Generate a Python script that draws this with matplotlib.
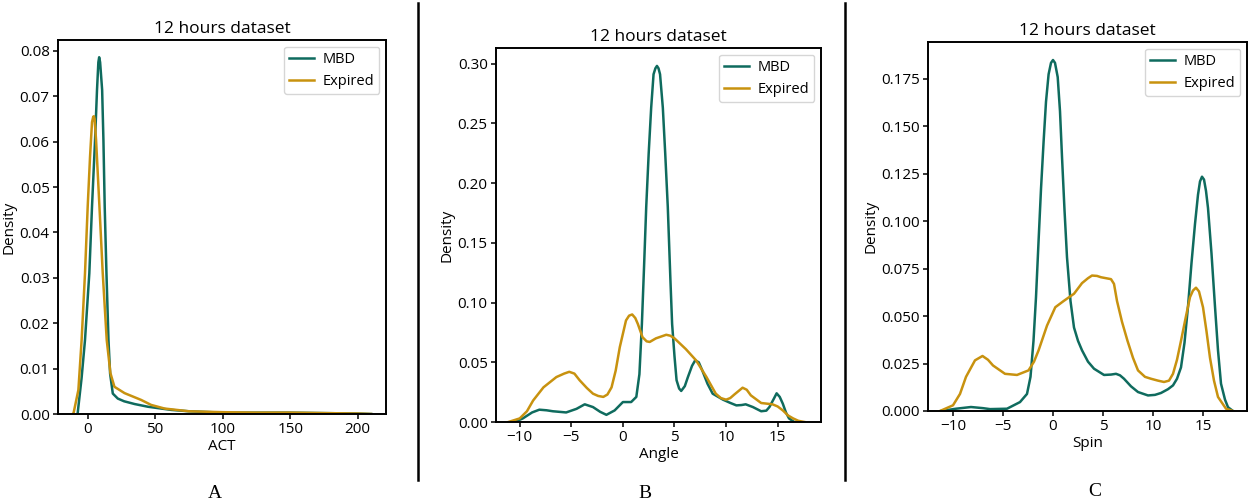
import matplotlib
matplotlib.use("Agg")
import matplotlib.pyplot as plt
from matplotlib.lines import Line2D

plt.rcParams['font.family'] = ['Open Sans', 'DejaVu Sans']

# ---------------- data ----------------
series_names = ["MBD", "Expired"]
colors = ["#0f6b5e", "#c8920f"]
title = "12 hours dataset"
panel_letters = ["A", "B", "C"]
xlabels = ["ACT", "Angle", "Spin"]

# Panel A: ACT
act_mbd_x = [-7.5, -6.9, -4.5, -2.0, 1.2, 3.2, 5.45, 6.9, 7.9, 8.5, 9.2, 10.7, 11.65,
             12.6, 13.9, 15.4, 16.6, 18.6, 22.3, 27.0, 34.7, 44.6, 52.0, 62.0, 75.0,
             100.0, 125.0, 150.0, 175.0, 200.0, 210.0]
act_mbd_y = [0.0, 0.0016, 0.0080, 0.0163, 0.0310, 0.0457, 0.0604, 0.0714, 0.0775, 0.0786,
             0.0775, 0.0714, 0.0604, 0.0457, 0.0310, 0.0163, 0.0089, 0.0045, 0.0034,
             0.0028, 0.0022, 0.0016, 0.0013, 0.0009, 0.0006, 0.0003, 0.0003, 0.0003,
             0.0002, 0.0001, 0.0]
act_exp_x = [-11.0, -10.4, -6.9, -4.5, -2.0, 0.0, 1.74, 3.2, 4.1, 4.6, 5.1, 6.2, 8.7,
             11.15, 14.1, 16.85, 19.8, 27.3, 39.6, 47.0, 57.0, 75.0, 100.0, 125.0,
             150.0, 175.0, 200.0, 210.0]
act_exp_y = [0.0, 0.0003, 0.0053, 0.0163, 0.0310, 0.0457, 0.0567, 0.0643, 0.0655, 0.0656,
             0.0650, 0.0604, 0.0457, 0.0310, 0.0163, 0.0090, 0.0060, 0.0046, 0.0031,
             0.0020, 0.0012, 0.0006, 0.0004, 0.0003, 0.0003, 0.0002, 0.0001, 0.0]

# Panel B: Angle
ang_mbd_x = [-10.5, -9.7, -8.8, -8.1, -7.4, -6.8, -5.5, -4.5, -3.7, -2.9, -2.2, -1.6,
             -0.8, 0.0, 0.8, 1.3, 1.6, 1.84, 2.05, 2.26, 2.5, 2.74, 2.97, 3.15, 3.3, 3.45,
             3.6, 3.87, 4.1, 4.35, 4.6, 4.77, 5.0, 5.2, 5.45, 5.65, 6.0, 6.3, 6.7, 7.0,
             7.35, 7.7, 8.2, 8.7, 9.7, 10.4, 11.0, 11.5, 11.9, 12.6, 13.4, 13.9, 14.2,
             14.6, 14.9, 15.2, 15.5, 15.8, 16.1, 16.6]
ang_mbd_y = [0.0, 0.003, 0.008, 0.0103, 0.0098, 0.009, 0.008, 0.011, 0.0148, 0.0125,
             0.0085, 0.006, 0.0097, 0.0167, 0.0167, 0.021, 0.040, 0.082, 0.130, 0.180,
             0.225, 0.263, 0.291, 0.296, 0.298, 0.296, 0.291, 0.263, 0.225, 0.180, 0.120,
             0.082, 0.055, 0.035, 0.028, 0.026, 0.030, 0.0376, 0.047, 0.0515, 0.050,
             0.043, 0.032, 0.0237, 0.0187, 0.016, 0.0139, 0.0142, 0.0148, 0.0125, 0.009,
             0.0095, 0.0125, 0.019, 0.024, 0.021, 0.0153, 0.008, 0.003, 0.0]
ang_exp_x = [-11.1, -10.0, -9.3, -8.7, -7.7, -6.45, -5.7, -5.2, -4.7, -4.2, -3.5, -2.9,
             -2.4, -1.9, -1.5, -1.1, -0.7, -0.3, 0.3, 0.6, 0.9, 1.2, 1.45, 1.9, 2.3, 2.6,
             3.2, 3.7, 4.2, 4.6, 5.0, 6.1, 7.1, 8.1, 9.0, 9.5, 10.0, 10.4, 10.8, 11.6,
             12.0, 12.4, 13.4, 14.5, 15.0, 15.5, 16.0, 16.5, 17.0, 17.6]
ang_exp_y = [0.0, 0.003, 0.009, 0.018, 0.029, 0.0376, 0.0405, 0.042, 0.0405, 0.035,
             0.0285, 0.0237, 0.0218, 0.021, 0.023, 0.029, 0.043, 0.0627, 0.085, 0.089,
             0.090, 0.087, 0.082, 0.071, 0.0675, 0.067, 0.070, 0.0715, 0.073, 0.0722,
             0.070, 0.061, 0.0515, 0.0376, 0.0237, 0.020, 0.0187, 0.020, 0.023, 0.0287,
             0.027, 0.0223, 0.0159, 0.0148, 0.013, 0.0097, 0.0055, 0.003, 0.001, 0.0]

# Panel C: Spin
spin_mbd_x = [-11.2, -9.7, -8.2, -7.0, -6.3, -4.6, -3.3, -2.6, -2.25, -1.95, -1.7,
              -1.44, -1.2, -0.94, -0.7, -0.44, -0.2, 0.0, 0.2, 0.47, 0.7, 0.9, 1.15, 1.4,
              1.75, 2.1, 2.5, 2.9, 3.5, 4.1, 5.1, 5.8, 6.3, 6.7, 7.1, 7.8, 8.5, 9.5, 10.2,
              10.8, 11.5, 12.0, 12.4, 12.8, 13.15, 13.5, 13.85, 14.2, 14.5, 14.7, 14.9,
              15.1, 15.3, 15.5, 15.85, 16.2, 16.5, 16.8, 17.2, 17.5, 18.0]
spin_mbd_y = [0.0, 0.0012, 0.0021, 0.0015, 0.001, 0.0012, 0.0047, 0.009, 0.018, 0.037,
              0.060, 0.090, 0.117, 0.142, 0.163, 0.1775, 0.1835, 0.185, 0.1835, 0.176,
              0.158, 0.134, 0.106, 0.081, 0.058, 0.044, 0.037, 0.032, 0.026, 0.0223, 0.019,
              0.0192, 0.0196, 0.0188, 0.017, 0.013, 0.010, 0.0082, 0.0085, 0.0095, 0.0115,
              0.0135, 0.017, 0.023, 0.036, 0.055, 0.078, 0.0986, 0.114, 0.121, 0.1235,
              0.122, 0.116, 0.107, 0.083, 0.055, 0.032, 0.0144, 0.006, 0.002, 0.0]
spin_exp_x = [-11.3, -10.0, -9.3, -8.7, -7.8, -7.05, -6.5, -6.0, -4.8, -3.6, -2.45, -1.9,
              -1.44, -0.6, 0.23, 1.07, 2.1, 2.9, 3.5, 3.9, 4.4, 4.8, 5.8, 6.1, 6.4, 6.9,
              7.45, 8.0, 8.5, 9.2, 9.8, 10.5, 11.1, 11.6, 12.0, 12.4, 12.8, 13.3, 13.7,
              14.0, 14.3, 14.6, 15.0, 15.35, 15.7, 16.1, 16.5, 17.3, 18.0]
spin_exp_y = [0.0, 0.003, 0.009, 0.018, 0.0267, 0.029, 0.027, 0.024, 0.0196, 0.019,
              0.0214, 0.026, 0.032, 0.045, 0.0547, 0.058, 0.0618, 0.0674, 0.070, 0.0714,
              0.0712, 0.0705, 0.0695, 0.067, 0.058, 0.047, 0.037, 0.028, 0.0214, 0.018,
              0.017, 0.016, 0.0153, 0.016, 0.0196, 0.027, 0.037, 0.050, 0.060, 0.0635,
              0.065, 0.063, 0.0547, 0.042, 0.028, 0.016, 0.0074, 0.0012, 0.0]

panels = [
    dict(curves=[(act_mbd_x, act_mbd_y), (act_exp_x, act_exp_y)],
         rect=[58, 40, 386, 414], xlim=(-22, 221), ylim=(0, 0.0824),
         xticks=[0, 50, 100, 150, 200], yticks=[0.00, 0.01, 0.02, 0.03, 0.04, 0.05, 0.06, 0.07, 0.08],
         yfmt="{:.2f}", letter_xy=(215, 493), sep=418),
    dict(curves=[(ang_mbd_x, ang_mbd_y), (ang_exp_x, ang_exp_y)],
         rect=[496, 48, 821, 422], xlim=(-12.3, 19.2), ylim=(0, 0.313),
         xticks=[-10, -5, 0, 5, 10, 15], yticks=[0.00, 0.05, 0.10, 0.15, 0.20, 0.25, 0.30],
         yfmt="{:.2f}", letter_xy=(645, 493), sep=845),
    dict(curves=[(spin_mbd_x, spin_mbd_y), (spin_exp_x, spin_exp_y)],
         rect=[928, 42, 1247, 411], xlim=(-12.5, 19.4), ylim=(0, 0.1945),
         xticks=[-10, -5, 0, 5, 10, 15],
         yticks=[0.000, 0.025, 0.050, 0.075, 0.100, 0.125, 0.150, 0.175],
         yfmt="{:.3f}", letter_xy=(1095, 491), sep=None),
]

W, H = 1250, 504
fig = plt.figure(figsize=(W / 100, H / 100), dpi=100, facecolor="white")

for p, xl, letter in zip(panels, xlabels, panel_letters):
    l, t, r, b = p["rect"]
    ax = fig.add_axes([l / W, 1 - b / H, (r - l) / W, (b - t) / H])
    for (xs, ys), name, c in zip(p["curves"], series_names, colors):
        ax.plot(xs, ys, color=c, lw=1.8, label=name, solid_joinstyle="round")
    ax.set_xlim(*p["xlim"])
    ax.set_ylim(*p["ylim"])
    ax.set_xticks(p["xticks"])
    ax.set_yticks(p["yticks"])
    ax.set_yticklabels([p["yfmt"].format(v) for v in p["yticks"]])
    ax.tick_params(labelsize=11, length=3.5, width=1.1, pad=2.5)
    for s in ax.spines.values():
        s.set_linewidth(1.4)
    ax.set_title(title, fontsize=12.5, pad=5)
    ax.set_xlabel(xl, fontsize=11, labelpad=1)
    ax.set_ylabel("Density", fontsize=11, labelpad=2)
    ax.legend(loc="upper right", fontsize=10.5, handlelength=1.7, handletextpad=0.6,
              borderpad=0.35, borderaxespad=0.45)
    lx, ly = p["letter_xy"]
    fig.text(lx / W, 1 - ly / H, letter, ha="center", va="center",
             fontsize=14, family=["Liberation Serif", "DejaVu Serif"])
    if p["sep"] is not None:
        fig.add_artist(Line2D([p["sep"] / W, p["sep"] / W], [1 - 3 / H, 1 - 480 / H],
                              color="black", lw=1.8))

fig.savefig("out.png", dpi=100, facecolor="white")
